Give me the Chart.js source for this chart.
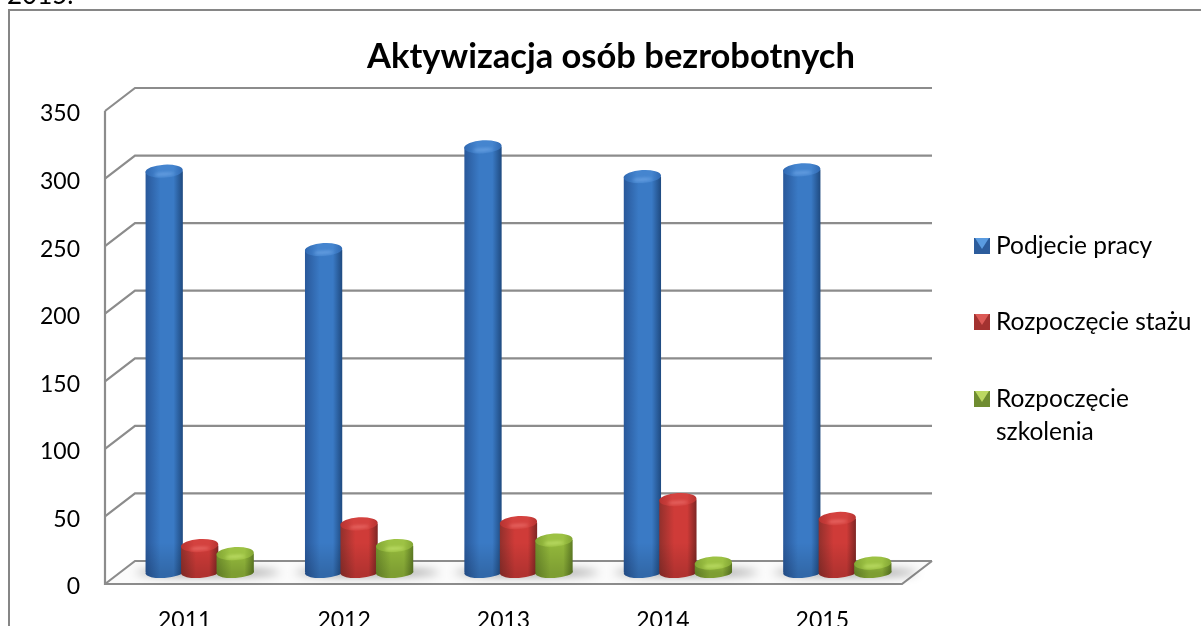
<!DOCTYPE html>
<html><head><meta charset="utf-8">
<style>html,body{margin:0;padding:0;background:#fff;overflow:hidden}canvas{display:block}</style>
<script src="https://cdn.jsdelivr.net/npm/chart.js@4"></script>
</head><body><canvas id="c" width="1201" height="626"></canvas>
<script>
const categories = ['2011','2012','2013','2014','2015'];
const seriesNames = ['Podjecie pracy','Rozpoczęcie stażu','Rozpoczęcie szkolenia'];
const podjeciePracy = [297,239,315,293,298];
const rozpoczecieStazu = [20,36,37,54,40];
const rozpoczecieSzkolenia = [14,20,24,7,7];
const yTicks = [0,50,100,150,200,250,300,350];
const titleText = 'Aktywizacja osób bezrobotnych';
const pageFragment = '2015.';

const FONT = 'Lato, Carlito, sans-serif';
const GRID = '#8c8c8c';
const DEPTH_X = 30, DEPTH_Y = 23;
const CAT_PCT = 0.668, BAR_PCT = 1.05, CAP_RY = 6.5, TILT = -0.06;
const PALETTE = [
  {edgeL:'#29589a',mid:'#3a7ac5',edgeR:'#1f4a80',cap:'#4585cf',capEdge:'#3069b2',hi:'rgba(130,180,240,.55)',base:'#2c5c9c',mark:'#5a9be0'},
  {edgeL:'#92302c',mid:'#cf3b38',edgeR:'#7e2624',cap:'#d4423f',capEdge:'#b63331',hi:'rgba(245,130,125,.55)',base:'#a33230',mark:'#dc5a56'},
  {edgeL:'#6f8f2c',mid:'#93b83b',edgeR:'#5e7c24',cap:'#9dc244',capEdge:'#82a534',hi:'rgba(205,235,120,.6)',base:'#6f8c30',mark:'#bcd862'}
];
function pitch(chart){return chart.scales.x.width/categories.length*CAT_PCT/seriesNames.length;}
function sideGradient(ctx,cx,w,p){
  const g = ctx.createLinearGradient(cx-w/2,0,cx+w/2,0);
  g.addColorStop(0,p.edgeL);g.addColorStop(0.4,p.mid);g.addColorStop(0.75,p.mid);g.addColorStop(1,p.edgeR);
  return g;
}
function barGradient(c){
  const p = PALETTE[c.datasetIndex];
  if (c.dataIndex===undefined || !c.chart.scales.x) return p.base;
  const w = pitch(c.chart)*BAR_PCT;
  const cx = c.chart.scales.x.getPixelForValue(c.dataIndex)+(c.datasetIndex-1)*pitch(c.chart);
  if (!isFinite(cx) || !isFinite(w)) return p.base;
  return sideGradient(c.chart.ctx,cx,w,p);
}
function drawBottom(chart,i){
  const {ctx}=chart, p=PALETTE[i];
  chart.getDatasetMeta(i).data.forEach(el=>{
    const w=pitch(chart)*BAR_PCT;
    ctx.fillStyle=sideGradient(ctx,el.x,w,p);
    ctx.beginPath();ctx.ellipse(el.x,el.base,w/2,5.5,TILT,0,Math.PI*2);ctx.fill();
    ctx.fillStyle='rgba(0,0,0,.14)';ctx.fill();
  });
}
function drawTop(chart,i){
  const {ctx}=chart, p=PALETTE[i];
  chart.getDatasetMeta(i).data.forEach(el=>{
    const w=pitch(chart)*BAR_PCT;
    const y0=Math.max(el.y,el.base-30);
    const v=ctx.createLinearGradient(0,y0,0,el.base);
    v.addColorStop(0,'rgba(0,0,0,0)');v.addColorStop(1,'rgba(0,0,0,.14)');
    ctx.fillStyle=v;ctx.fillRect(el.x-w/2,y0,w,el.base-y0);
    const g=ctx.createLinearGradient(el.x-w/2,0,el.x+w/2,0);
    g.addColorStop(0,p.capEdge);g.addColorStop(.35,p.cap);g.addColorStop(.75,p.cap);g.addColorStop(1,p.capEdge);
    ctx.fillStyle=g;
    ctx.beginPath();ctx.ellipse(el.x,el.y,w/2,CAP_RY,TILT,0,Math.PI*2);ctx.fill();
    ctx.save();
    ctx.filter='blur(1.5px)';
    ctx.fillStyle=p.hi;
    ctx.beginPath();ctx.ellipse(el.x,el.y+3,w*0.27,1.6,TILT,0,Math.PI*2);ctx.fill();
    ctx.restore();
  });
}
const wall3d = {
  id:'wall3d',
  beforeDatasetsDraw(chart){
    const {ctx,scales:{x,y}} = chart;
    const L=x.left,R=x.right,B=y.getPixelForValue(0);
    ctx.save();
    ctx.fillStyle='#fbfbfb';
    ctx.beginPath();ctx.moveTo(L,B);ctx.lineTo(R,B);ctx.lineTo(R+DEPTH_X,B-DEPTH_Y);ctx.lineTo(L+DEPTH_X,B-DEPTH_Y);ctx.closePath();ctx.fill();
    ctx.strokeStyle=GRID;ctx.lineWidth=2.2;ctx.lineCap='butt';ctx.lineJoin='miter';
    yTicks.forEach(v=>{
      const py=y.getPixelForValue(v);
      ctx.beginPath();ctx.moveTo(L,py);ctx.lineTo(L+DEPTH_X,py-DEPTH_Y);ctx.lineTo(R+DEPTH_X,py-DEPTH_Y);ctx.stroke();
    });
    ctx.beginPath();ctx.moveTo(L,y.getPixelForValue(350));ctx.lineTo(L,B);ctx.lineTo(R,B);ctx.lineTo(R+DEPTH_X,B-DEPTH_Y);ctx.stroke();
    // soft floor shadow beneath each bar group
    ctx.filter='blur(5px)';
    ctx.fillStyle='rgba(0,0,0,0.42)';
    categories.forEach((_,i)=>{
      const cx=x.getPixelForValue(i)+DEPTH_X/2+8;
      ctx.beginPath();ctx.ellipse(cx,B-DEPTH_Y/2,72,3.5,0,0,Math.PI*2);ctx.fill();
    });
    ctx.restore();
  },
  // default draw order would put the first series on top; paint them left-to-right instead
  beforeDatasetDraw(){return false;},
  afterDatasetsDraw(chart){
    const {ctx}=chart;
    ctx.save();
    ctx.translate(DEPTH_X/2,-DEPTH_Y/2);
    seriesNames.forEach((_,i)=>{
      drawBottom(chart,i);
      chart.getDatasetMeta(i).controller.draw();
      drawTop(chart,i);
    });
    ctx.restore();
  }
};
const decor = {
  id:'decor',
  afterDraw(chart){
    const {ctx}=chart;
    ctx.save();
    ctx.strokeStyle='#868686';ctx.lineWidth=2;
    ctx.beginPath();ctx.moveTo(9,626);ctx.lineTo(9,10);ctx.lineTo(1201,10);ctx.stroke();
    ctx.fillStyle='#000';ctx.textBaseline='alphabetic';ctx.textAlign='left';
    ctx.font='26px '+FONT;
    ctx.fillText(pageFragment,7,4);
    ctx.font='bold 34.5px '+FONT;ctx.textAlign='center';ctx.textBaseline='middle';
    ctx.fillText(titleText,611,57);
    // legend
    const rows=[{y:246,lines:[seriesNames[0]]},{y:322,lines:[seriesNames[1]]},{y:399,lines:['Rozpoczęcie','szkolenia']}];
    ctx.font='24.5px '+FONT;ctx.textAlign='left';
    rows.forEach((r,i)=>{
      const p=PALETTE[i],x0=974,y0=r.y-8,s=16;
      ctx.fillStyle=p.base;ctx.fillRect(x0,y0,s,s);
      ctx.fillStyle=p.mark;ctx.beginPath();ctx.moveTo(x0+1,y0);ctx.lineTo(x0+s-1,y0);ctx.lineTo(x0+s/2,y0+11);ctx.closePath();ctx.fill();
      ctx.fillStyle='#000';
      r.lines.forEach((t,j)=>ctx.fillText(t,996,r.y+j*33));
    });
    ctx.restore();
  }
};
new Chart(document.getElementById('c'),{
  type:'bar',
  data:{labels:categories,datasets:[
    {label:seriesNames[0],data:podjeciePracy,backgroundColor:barGradient},
    {label:seriesNames[1],data:rozpoczecieStazu,backgroundColor:barGradient},
    {label:seriesNames[2],data:rozpoczecieSzkolenia,backgroundColor:barGradient}
  ]},
  options:{
    responsive:false,animation:false,
    layout:{padding:{left:0,right:299,top:111,bottom:0}},
    datasets:{bar:{categoryPercentage:CAT_PCT,barPercentage:BAR_PCT,borderWidth:0}},
    plugins:{legend:{display:false},title:{display:false},tooltip:{enabled:false}},
    scales:{
      x:{grid:{display:false},border:{display:false},
         ticks:{color:'#000',font:{family:FONT,size:23},padding:15,maxRotation:0},
         afterFit(s){s.height=42;}},
      y:{min:0,max:350,grid:{display:false},border:{display:false},
         afterBuildTicks(s){s.ticks=yTicks.map(v=>({value:v}));},
         ticks:{color:'#000',font:{family:FONT,size:23},padding:17,labelOffset:3},
         afterFit(s){s.width=105;}}
    }
  },
  plugins:[wall3d,decor]
});
</script></body></html>
